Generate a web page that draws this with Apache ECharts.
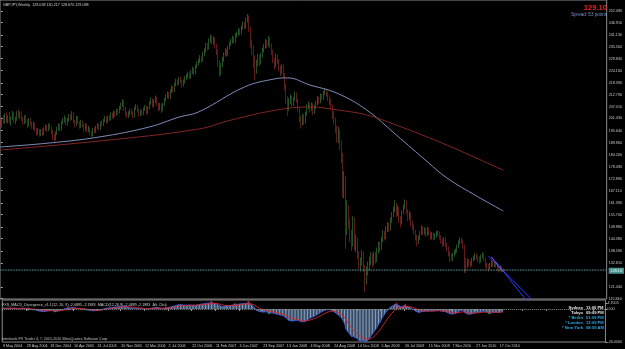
<!DOCTYPE html>
<html><head><meta charset="utf-8">
<script src="https://cdn.jsdelivr.net/npm/echarts@6/dist/echarts.min.js"></script>
<style>html,body{margin:0;padding:0;background:#000;overflow:hidden}#c{width:625px;height:349px}</style>
</head><body><div id="c"></div>
<script>
// ---------- DATA (weekly GBPJPY, index 0 = week of 9 May 2004) ----------
const opens = [
200.2,198.5,201.2,199.8,203.0,200.6,202.4,199.9,201.5,203.8,
200.2,201.0,204.1,202.6,203.9,201.4,199.6,202.1,200.0,198.2,
200.9,199.3,197.4,198.8,196.2,194.6,195.8,193.9,195.6,194.0,
196.3,197.5,196.0,198.2,197.0,195.1,193.0,191.8,194.4,196.7,
198.0,196.3,199.5,200.4,201.6,199.0,200.8,202.5,201.3,203.9,
200.0,198.4,201.9,199.6,197.8,199.9,198.1,196.4,198.3,195.7,
196.8,194.5,193.6,196.0,195.2,197.3,198.1,196.7,199.4,198.6,
200.3,201.5,199.9,202.0,201.1,203.4,202.2,204.0,203.2,205.1,
204.3,206.5,207.8,209.2,206.0,203.9,202.8,203.6,205.2,204.0,
202.5,206.3,207.0,205.1,203.4,204.9,203.7,205.8,206.9,204.2,
206.4,208.9,210.2,207.5,209.6,211.0,208.3,206.1,207.9,205.6,
208.0,210.4,211.8,213.2,211.5,214.3,216.0,214.8,217.5,219.2,
218.0,220.1,219.0,217.4,218.8,220.6,221.3,222.5,221.0,223.4,
224.8,223.2,226.1,227.4,228.6,230.2,229.1,232.0,233.5,236.2,
235.0,238.4,240.1,237.8,239.2,236.0,233.4,228.1,224.3,226.8,
229.5,231.7,233.6,232.0,235.1,236.9,238.0,239.6,238.2,240.8,
241.5,243.0,242.1,244.6,246.3,245.0,248.2,249.5,244.1,237.0,
235.2,229.0,224.6,227.9,230.8,228.0,231.5,233.9,235.6,238.0,
236.4,239.1,236.2,233.0,229.4,226.5,231.0,228.7,225.3,223.9,
226.2,222.0,217.1,210.6,206.5,209.8,211.4,208.2,210.5,213.0,
210.1,206.0,201.4,199.0,202.5,199.8,203.6,206.9,208.0,205.7,
207.9,204.4,206.8,208.5,210.9,209.4,212.2,211.0,213.6,214.5,
212.8,211.4,209.6,207.2,203.5,200.8,196.8,192.4,194.7,189.6,
183.5,170.3,172.1,148.4,157.9,152.2,146.0,141.8,153.3,140.6,
143.1,137.2,131.3,133.0,137.4,130.8,124.0,129.2,130.5,133.4,
136.2,132.9,136.8,134.1,138.6,141.3,140.0,143.7,146.8,145.2,
148.9,150.6,149.2,152.8,155.4,157.9,160.4,156.3,158.8,153.4,
152.0,156.7,159.5,161.8,157.2,154.3,156.0,151.6,150.2,147.9,
145.1,143.0,144.6,146.9,149.4,147.3,148.6,146.4,148.8,147.0,
145.2,146.3,144.9,145.8,146.7,147.1,145.0,143.4,141.8,144.0,
141.7,139.8,137.6,136.4,134.9,136.8,137.9,138.5,140.6,142.4,
143.9,143.2,141.0,134.5,131.2,133.6,132.8,132.1,134.3,135.0,
136.2,135.5,134.6,133.8,135.9,136.8,134.7,132.1,131.3,130.6,
131.8,133.0,131.9,132.5,131.6,130.4,129.9,130.7,129.038];
const highs = [
201.4,202.0,203.0,203.9,204.4,203.0,204.5,202.5,205.0,204.4,
202.3,205.0,205.6,204.8,204.6,202.2,202.9,203.3,201.1,201.8,
201.7,200.0,199.9,199.4,197.0,196.9,196.5,196.4,196.8,197.2,
198.6,198.3,199.1,199.0,197.8,196.0,194.1,195.2,197.5,199.2,
198.9,200.4,201.6,202.8,202.3,201.7,203.6,203.4,204.9,204.5,
200.8,202.6,202.7,200.3,200.8,200.5,198.9,199.2,198.8,197.9,
197.3,195.4,196.8,197.1,198.0,199.3,198.8,200.1,200.5,201.2,
202.6,202.3,202.9,203.0,204.3,204.2,205.1,204.9,206.0,206.2,
207.4,208.9,210.6,210.1,207.0,204.8,204.9,206.1,206.0,204.9,
207.0,208.2,207.8,205.9,205.8,205.7,206.6,207.9,207.5,207.3,
209.8,211.4,210.9,210.5,212.3,211.7,209.0,208.8,208.5,208.9,
211.2,212.9,214.3,214.0,215.2,217.1,216.9,218.4,220.3,220.0,
221.0,221.2,219.7,219.9,221.5,222.6,223.6,223.3,224.3,226.0,
225.6,227.0,228.6,229.9,231.5,231.0,233.1,234.8,237.3,237.4,
239.5,241.3,240.9,240.5,239.9,237.0,234.2,229.2,227.9,230.6,
232.8,234.9,234.5,236.1,238.0,239.3,240.8,240.4,241.9,242.7,
244.3,244.1,245.6,247.5,247.2,249.3,251.1,250.4,245.0,238.6,
236.1,231.4,229.3,232.0,231.7,232.6,235.2,236.9,239.2,238.8,
240.5,239.9,237.0,234.1,230.2,232.3,231.9,229.6,226.6,227.4,
227.0,222.9,218.0,211.9,211.0,212.9,212.1,211.6,214.2,213.8,
210.9,206.8,202.6,203.8,203.3,204.7,208.1,209.6,208.8,209.0,
208.6,207.9,209.7,212.0,211.8,213.3,213.1,214.7,215.9,215.4,
213.9,212.5,210.8,208.1,204.9,202.0,198.1,197.5,196.0,191.2,
185.0,176.4,174.0,162.6,160.3,153.8,148.6,155.0,154.5,146.2,
144.9,138.5,135.4,139.0,138.2,131.9,131.0,133.6,135.8,137.9,
137.4,138.3,138.0,140.1,142.9,143.0,145.2,148.4,148.0,150.3,
152.2,152.0,154.4,157.0,159.6,162.7,161.5,160.1,159.5,155.0,
157.8,160.6,163.0,162.5,158.3,157.4,156.8,152.9,151.1,148.7,
146.2,145.9,148.0,150.6,150.3,149.7,149.5,149.9,149.6,147.8,
147.4,147.1,146.9,147.9,148.4,147.8,145.9,144.3,145.1,144.8,
142.5,140.7,138.5,137.3,137.8,139.0,139.7,141.5,143.5,145.0,
144.9,144.0,141.6,135.3,134.9,134.7,133.9,135.2,136.3,137.4,
137.3,136.4,135.9,136.8,137.9,137.5,135.4,133.0,132.4,132.9,
134.2,133.8,133.6,133.4,132.2,131.3,131.6,131.4,130.217];
const lows = [
197.7,197.0,199.1,198.9,199.5,199.1,199.2,198.1,200.7,199.4,
198.7,200.3,201.8,201.1,200.2,198.4,198.8,199.2,197.0,197.5,
198.0,196.5,196.1,195.3,193.2,193.7,192.8,193.0,193.1,193.4,
195.6,194.9,195.4,196.2,194.0,191.2,190.4,191.0,193.6,195.8,
195.4,195.7,198.6,199.5,198.2,198.1,200.0,200.4,200.6,199.1,
197.2,197.9,198.8,196.6,197.0,197.3,195.2,195.6,194.8,194.9,
193.6,192.5,192.9,194.3,194.6,196.5,195.8,196.0,197.7,197.9,
199.6,199.0,199.2,200.2,200.5,201.3,201.5,202.1,202.6,203.2,
203.7,205.6,206.9,205.1,202.6,201.5,201.7,202.8,203.1,201.4,
201.9,205.4,204.3,202.3,202.6,202.8,203.0,205.0,203.3,203.6,
205.7,208.0,206.6,206.8,208.7,207.4,204.8,205.3,203.9,204.8,
207.3,209.6,210.9,210.6,210.8,213.5,213.8,214.1,216.7,217.0,
217.3,218.1,216.2,216.6,218.0,219.7,220.5,220.0,220.3,222.6,
222.1,222.5,225.2,226.5,227.8,227.9,228.4,231.0,232.7,233.8,
234.2,237.4,236.5,236.6,234.7,231.6,226.0,221.2,222.0,225.7,
228.4,230.8,230.9,231.3,234.2,235.9,237.1,237.0,237.4,239.8,
240.7,240.9,241.3,243.7,243.8,244.2,247.0,242.6,234.8,231.4,
225.6,219.6,222.8,226.4,226.3,227.1,230.4,232.8,234.5,234.9,
235.6,234.8,231.6,227.8,224.6,225.8,227.2,223.8,221.5,222.6,
220.8,214.9,208.4,202.8,205.1,208.3,207.0,207.3,209.7,208.9,
204.6,199.7,196.7,198.1,198.4,199.0,202.7,205.8,204.2,204.9,
203.1,203.6,205.9,207.6,208.2,208.6,209.9,210.2,212.6,211.7,
209.6,207.8,205.4,201.2,198.5,194.5,190.0,189.8,186.4,180.2,
163.8,163.5,139.5,146.1,149.0,142.7,138.6,140.6,138.9,137.8,
134.6,129.9,128.7,131.6,128.5,118.8,122.5,126.9,129.4,131.8,
130.6,131.7,132.6,133.3,137.2,137.8,139.1,142.6,143.5,144.1,
147.5,147.6,148.3,151.9,154.5,156.8,154.6,155.0,151.8,149.6,
151.2,155.9,158.4,155.9,152.6,153.1,150.2,148.4,146.3,143.4,
140.6,141.8,143.7,146.0,146.1,146.2,145.1,145.6,145.9,143.6,
144.0,143.7,143.9,144.9,145.5,143.8,142.0,140.4,141.0,140.3,
138.4,135.9,133.3,133.6,133.9,135.8,136.9,137.7,139.8,141.5,
142.0,139.6,128.0,128.2,130.3,131.3,130.6,131.4,133.5,134.1,
134.4,133.3,132.5,133.0,135.1,133.6,130.8,129.4,128.7,129.6,
130.9,130.7,130.9,130.5,129.1,128.3,128.9,128.4,128.670];
const closes = [
198.5,201.2,199.8,203.0,200.6,202.4,199.9,201.5,203.8,200.2,
201.0,204.1,202.6,203.9,201.4,199.6,202.1,200.0,198.2,200.9,
199.3,197.4,198.8,196.2,194.6,195.8,193.9,195.6,194.0,196.3,
197.5,196.0,198.2,197.0,195.1,193.0,191.8,194.4,196.7,198.0,
196.3,199.5,200.4,201.6,199.0,200.8,202.5,201.3,203.9,200.0,
198.4,201.9,199.6,197.8,199.9,198.1,196.4,198.3,195.7,196.8,
194.5,193.6,196.0,195.2,197.3,198.1,196.7,199.4,198.6,200.3,
201.5,199.9,202.0,201.1,203.4,202.2,204.0,203.2,205.1,204.3,
206.5,207.8,209.2,206.0,203.9,202.8,203.6,205.2,204.0,202.5,
206.3,207.0,205.1,203.4,204.9,203.7,205.8,206.9,204.2,206.4,
208.9,210.2,207.5,209.6,211.0,208.3,206.1,207.9,205.6,208.0,
210.4,211.8,213.2,211.5,214.3,216.0,214.8,217.5,219.2,218.0,
220.1,219.0,217.4,218.8,220.6,221.3,222.5,221.0,223.4,224.8,
223.2,226.1,227.4,228.6,230.2,229.1,232.0,233.5,236.2,235.0,
238.4,240.1,237.8,239.2,236.0,233.4,228.1,224.3,226.8,229.5,
231.7,233.6,232.0,235.1,236.9,238.0,239.6,238.2,240.8,241.5,
243.0,242.1,244.6,246.3,245.0,248.2,249.5,244.1,237.0,235.2,
229.0,224.6,227.9,230.8,228.0,231.5,233.9,235.6,238.0,236.4,
239.1,236.2,233.0,229.4,226.5,231.0,228.7,225.3,223.9,226.2,
222.0,217.1,210.6,206.5,209.8,211.4,208.2,210.5,213.0,210.1,
206.0,201.4,199.0,202.5,199.8,203.6,206.9,208.0,205.7,207.9,
204.4,206.8,208.5,210.9,209.4,212.2,211.0,213.6,214.5,212.8,
211.4,209.6,207.2,203.5,200.8,196.8,192.4,194.7,189.6,183.5,
170.3,172.1,148.4,157.9,152.2,146.0,141.8,153.3,140.6,143.1,
137.2,131.3,133.0,137.4,130.8,124.0,129.2,130.5,133.4,136.2,
132.9,136.8,134.1,138.6,141.3,140.0,143.7,146.8,145.2,148.9,
150.6,149.2,152.8,155.4,157.9,160.4,156.3,158.8,153.4,152.0,
156.7,159.5,161.8,157.2,154.3,156.0,151.6,150.2,147.9,145.1,
143.0,144.6,146.9,149.4,147.3,148.6,146.4,148.8,147.0,145.2,
146.3,144.9,145.8,146.7,147.1,145.0,143.4,141.8,144.0,141.7,
139.8,137.6,136.4,134.9,136.8,137.9,138.5,140.6,142.4,143.9,
143.2,141.0,134.5,131.2,133.6,132.8,132.1,134.3,135.0,136.2,
135.5,134.6,133.8,135.9,136.8,134.7,132.1,131.3,130.6,131.8,
133.0,131.9,132.5,131.6,130.4,129.9,130.7,129.04,129.098];
// moving averages: [week index, price]
const maFast = [[0,187.9],[33,189.8],[66,192.6],[100,197.4],[120,202.1],[133,204.5],[164,216.4],[184,220.2],[193,220.7],[208,217.3],[226,213.5],[246,205.5],[266,193.6],[287,180.8],[300,173.2],[320,164.6],[338,157.5]];
const maSlow = [[0,186.5],[66,190.7],[133,196.4],[155,200.7],[186,205.5],[208,206.9],[226,205.5],[246,203.1],[266,198.3],[300,188.8],[338,176.8]];
// trend channel drawn at the right end: [week index, price]
const channelA = [[328,136.1],[360,113.5]];
const channelB = [[333,133.3],[354,114.5]];
const channelC = [[330,135.6],[338,128.5]];
// MACD(12,26,9) main and signal
const macdMain = [
0.6,0.7,0.6,0.8,0.7,0.7,0.5,0.5,0.6,0.4,
0.4,0.6,0.6,0.7,0.5,0.2,0.2,0.0,-0.3,-0.3,
-0.4,-0.7,-0.8,-1.1,-1.5,-1.6,-1.9,-1.9,-2.0,-1.8,
-1.5,-1.4,-1.1,-1.0,-1.1,-1.4,-1.8,-1.7,-1.3,-0.8,
-0.6,-0.2,0.2,0.6,0.6,0.7,0.9,0.9,1.1,0.8,
0.4,0.5,0.3,-0.1,-0.1,-0.3,-0.6,-0.6,-0.9,-1.0,
-1.3,-1.6,-1.4,-1.3,-1.0,-0.7,-0.6,-0.2,0.0,0.3,
0.6,0.6,0.9,1.0,1.3,1.4,1.6,1.6,1.8,1.8,
2.0,2.2,2.5,2.2,1.7,1.2,0.9,0.8,0.6,0.3,
0.5,0.7,0.6,0.3,0.2,0.0,0.1,0.2,0.0,0.1,
0.5,0.9,0.9,1.0,1.3,1.1,0.7,0.6,0.2,0.2,
0.5,0.9,1.3,1.4,1.8,2.3,2.4,2.8,3.2,3.3,
3.5,3.4,3.1,3.0,3.0,3.0,3.1,2.9,3.0,3.1,
2.9,3.1,3.3,3.5,3.8,3.8,4.1,4.3,4.6,4.6,
4.8,4.9,4.6,4.4,4.1,3.6,3.0,2.4,2.0,1.9,
2.0,2.2,2.3,2.6,2.9,3.1,3.3,3.4,3.6,3.8,
4.0,4.0,4.2,4.4,4.4,4.6,4.7,4.3,3.4,2.4,
1.2,-0.5,-1.3,-1.8,-2.2,-2.4,-2.4,-2.3,-2.1,-2.3,
-2.7,-2.9,-3.0,-3.3,-3.8,-3.9,-4.2,-4.6,-5.0,-5.2,
-5.6,-6.4,-7.6,-8.8,-9.3,-9.4,-9.5,-9.3,-8.9,-8.8,
-9.0,-9.6,-10.2,-10.1,-10.0,-9.5,-8.6,-7.7,-7.1,-6.5,
-6.1,-5.5,-4.8,-4.0,-3.4,-2.6,-2.0,-1.4,-0.8,-0.5,
-0.4,-0.5,-0.8,-1.4,-2.1,-3.1,-4.2,-4.8,-5.8,-7.2,
-9.0,-11.5,-15.8,-17.6,-19.0,-20.6,-22.0,-21.6,-22.6,-22.8,
-23.8,-25.0,-25.4,-24.8,-25.0,-25.9,-25.2,-24.3,-22.8,-21.0,
-19.6,-17.8,-16.4,-14.4,-12.2,-10.4,-8.2,-5.9,-4.3,-2.4,
-0.9,0.3,1.3,2.1,2.9,3.5,3.3,3.3,2.6,1.9,
2.0,2.3,2.6,2.2,1.6,1.4,0.7,0.1,-0.7,-1.6,
-2.4,-2.7,-2.6,-2.2,-2.1,-1.8,-1.8,-1.5,-1.4,-1.5,
-1.4,-1.5,-1.4,-1.2,-1.0,-1.1,-1.4,-1.8,-1.7,-2.0,
-2.4,-3.0,-3.5,-4.0,-4.0,-3.8,-3.5,-2.9,-2.2,-1.5,
-1.1,-1.1,-2.3,-3.4,-3.8,-4.1,-4.2,-3.9,-3.5,-3.0,
-2.7,-2.6,-2.5,-2.2,-1.8,-1.8,-2.1,-2.4,-2.7,-2.7,
-2.6,-2.6,-2.5,-2.5,-2.6,-2.7,-2.5,-2.4,-2.0895];
const macdSignal = [
0.5,0.5,0.5,0.6,0.6,0.6,0.6,0.6,0.6,0.6,
0.5,0.5,0.5,0.6,0.6,0.5,0.4,0.3,0.2,0.1,
0.0,-0.1,-0.3,-0.4,-0.6,-0.8,-1.0,-1.2,-1.3,-1.4,
-1.5,-1.5,-1.4,-1.3,-1.3,-1.3,-1.4,-1.5,-1.4,-1.3,
-1.2,-1.0,-0.7,-0.5,-0.3,-0.1,0.1,0.3,0.5,0.6,
0.6,0.6,0.5,0.4,0.3,0.2,0.0,-0.1,-0.3,-0.4,
-0.6,-0.8,-1.0,-1.1,-1.1,-1.0,-1.0,-0.8,-0.6,-0.4,
-0.2,0.0,0.2,0.4,0.6,0.8,1.0,1.1,1.3,1.4,
1.5,1.6,1.8,1.9,1.9,1.8,1.6,1.5,1.3,1.1,
1.0,0.9,0.8,0.7,0.6,0.5,0.4,0.3,0.3,0.2,
0.3,0.4,0.5,0.6,0.7,0.8,0.8,0.8,0.7,0.6,
0.6,0.6,0.8,0.9,1.1,1.3,1.5,1.8,2.1,2.3,
2.5,2.7,2.8,2.8,2.9,2.9,2.9,2.9,3.0,3.0,
3.0,3.0,3.0,3.1,3.3,3.4,3.5,3.7,3.9,4.0,
4.2,4.3,4.4,4.4,4.4,4.2,4.0,3.7,3.4,3.1,
2.9,2.8,2.7,2.7,2.7,2.8,2.9,3.0,3.1,3.3,
3.4,3.5,3.7,3.8,3.9,4.0,4.2,4.2,4.0,3.7,
3.2,2.5,1.7,1.0,0.4,-0.2,-0.6,-0.9,-1.2,-1.4,
-1.7,-1.9,-2.1,-2.3,-2.6,-2.8,-3.1,-3.4,-3.7,-4.0,
-4.3,-4.7,-5.3,-6.0,-6.6,-7.2,-7.6,-8.0,-8.2,-8.4,
-8.5,-8.7,-9.0,-9.2,-9.4,-9.4,-9.2,-9.0,-8.6,-8.2,
-7.8,-7.3,-6.8,-6.3,-5.7,-5.1,-4.5,-3.9,-3.3,-2.8,
-2.3,-1.9,-1.7,-1.6,-1.7,-2.0,-2.4,-2.9,-3.5,-4.2,
-5.2,-6.4,-8.3,-10.2,-12.0,-13.7,-15.4,-16.7,-17.9,-18.9,
-19.9,-20.9,-21.8,-22.4,-22.9,-23.5,-23.8,-23.9,-23.7,-23.2,
-22.5,-21.6,-20.5,-19.3,-17.9,-16.4,-14.8,-13.0,-11.3,-9.5,
-7.8,-6.2,-4.7,-3.3,-2.1,-1.0,-0.2,0.5,0.9,1.1,
1.3,1.5,1.8,1.9,1.9,1.8,1.6,1.3,0.9,0.4,
-0.2,-0.7,-1.1,-1.3,-1.5,-1.6,-1.7,-1.7,-1.6,-1.6,
-1.6,-1.6,-1.5,-1.5,-1.4,-1.3,-1.3,-1.4,-1.5,-1.6,
-1.7,-2.0,-2.3,-2.6,-2.9,-3.1,-3.2,-3.1,-2.9,-2.7,
-2.4,-2.2,-2.2,-2.5,-2.8,-3.0,-3.3,-3.4,-3.4,-3.3,
-3.2,-3.1,-3.0,-2.8,-2.6,-2.5,-2.4,-2.4,-2.5,-2.5,
-2.5,-2.5,-2.5,-2.5,-2.5,-2.5,-2.4,-2.3,-2.1883];
// divergence markers on the MACD: [week index, value]
const divPeaks = [[44,0.9],[110,0.9],[141,5.3],[157,3.8],[166,5.1],[266,3.7],[272,3.0]];
const divTroughs = [[17,0.0],[35,-1.4],[151,2.2],[180,-2.7],[329,-2.7]];
// tick labels
const xTickLabels = ['9 May 2004','29 Aug 2004','19 Dec 2004','10 Apr 2005','31 Jul 2005','20 Nov 2005','12 Mar 2006','2 Jul 2006','22 Oct 2006','11 Feb 2007','3 Jun 2007','23 Sep 2007','13 Jan 2008','4 May 2008','24 Aug 2008','14 Dec 2008','5 Apr 2009','26 Jul 2009','15 Nov 2009','7 Mar 2010','27 Jun 2010','17 Oct 2010'];
const priceTicks = [252.490,246.910,241.130,235.560,229.840,224.160,218.390,212.790,207.010,201.430,195.640,189.960,184.260,178.490,172.890,167.110,161.390,155.760,149.980,144.380,138.590,132.810,121.440,115.840];
const macdTickValues = [4.7005, 0, -26];
const macdTickLabels = ['4.7005','0.00','-26.0000'];
const bidPrice = 129.10, askPrice = 129.63;
const titleText = 'GBPJPY,Weekly  129.038 130.217 128.670 129.098';
const macdTitle = 'FXS_MACD_Divergence_v1.1(12, 26, 9) -2.0895 -2.1883  MACD(12,26,9) -2.0895 -2.1883  Alt. Click';
const footerText = 'Interbank FX Trader 4, \u00a9 2001-2010 MetaQuotes Software Corp.';
const clockRows = [['Sydney','11:09 PM',0],['Tokyo','09:09 PM',0],['* Berlin','01:09 PM',1],['* London','12:09 PM',1],['* New York','08:09 AM',1]];
const SLOTS = 408;

// ---------- build ----------
const cats = []; for (let i = 0; i < SLOTS; i++) cats.push(String(i));
const candles = closes.map((c, i) => [opens[i], c, lows[i], highs[i]]);
const F = 'Liberation Sans';
const FS = 3.7;
const chart = echarts.init(document.getElementById('c'), null, {renderer: 'canvas'});

const graphic = [
  {type:'text', x:3, y:5, style:{text:titleText, fill:'#d0d0d0', fontSize:FS, fontFamily:F, verticalAlign:'middle'}},
  {type:'text', x:607, y:8, style:{text:bidPrice.toFixed(2), fill:'#ff1a1a', fontSize:7.6, fontWeight:'bold', fontFamily:F, align:'right', verticalAlign:'middle'}},
  {type:'text', x:607, y:15, style:{text:'Spread: 53 points', fill:'#7b8fc8', fontSize:4.6, fontFamily:F, align:'right', verticalAlign:'middle'}},
  {type:'text', x:2, y:304.5, style:{text:macdTitle, fill:'#c8c8c8', fontSize:FS, fontFamily:F, verticalAlign:'middle'}},
  {type:'text', x:2, y:339, style:{text:footerText, fill:'#c0c0c0', fontSize:FS, fontFamily:F, verticalAlign:'middle'}}
];
clockRows.forEach((r, k) => {
  const col = r[2] ? '#2aa8e8' : '#e8e8e8';
  graphic.push({type:'text', x:583, y:308 + k*5, style:{text:r[0], fill:col, fontSize:4.1, fontFamily:F, fontWeight:'bold', align:'right', verticalAlign:'middle'}});
  graphic.push({type:'text', x:586, y:308 + k*5, style:{text:r[1], fill:col, fontSize:4.1, fontFamily:F, fontWeight:'bold', align:'left', verticalAlign:'middle'}});
});

chart.setOption({
  backgroundColor:'#000',
  animation:false,
  grid:[
    {left:0, right:14, top:0, height:299, show:true, borderColor:'#8a8a8a', borderWidth:1, backgroundColor:'transparent'},
    {left:0, right:14, top:300, height:42, show:true, borderColor:'#8a8a8a', borderWidth:1, backgroundColor:'transparent'}
  ],
  xAxis:[
    {type:'category', gridIndex:0, data:cats, boundaryGap:true, show:false},
    {type:'category', gridIndex:1, data:cats, boundaryGap:true,
     axisLine:{show:false},
     axisTick:{show:true, interval:15, length:2, inside:false, lineStyle:{color:'#9a9a9a'}},
     axisLabel:{interval:15, color:'#c8c8c8', fontSize:FS, fontFamily:F, margin:2, align:'left',
       formatter:(v, idx) => (idx % 16 === 0 && idx / 16 < xTickLabels.length) ? xTickLabels[idx / 16] : ''},
     splitLine:{show:false}},
    {type:'value', gridIndex:0, min:-0.5, max:SLOTS - 0.5, show:false}
  ],
  yAxis:[
    {type:'value', gridIndex:0, position:'right', min:115.68, max:257.7, scale:true,
     axisLine:{show:false}, splitLine:{show:false},
     axisTick:{show:true, length:2, customValues:priceTicks, lineStyle:{color:'#aaaaaa'}},
     axisLabel:{customValues:priceTicks, formatter:v => v.toFixed(3), color:'#c8c8c8', fontSize:FS, fontFamily:F, margin:2}},
    {type:'value', gridIndex:1, position:'right', min:-26, max:7.1,
     axisLine:{show:false}, splitLine:{show:false},
     axisTick:{show:true, length:2, customValues:macdTickValues, lineStyle:{color:'#aaaaaa'}},
     axisLabel:{customValues:macdTickValues, formatter:v => { const k = macdTickValues.indexOf(v); return k >= 0 ? macdTickLabels[k] : ''; }, color:'#c8c8c8', fontSize:FS, fontFamily:F, margin:2}}
  ],
  graphic: graphic,
  series:[
    {type:'candlestick', xAxisIndex:0, yAxisIndex:0, data:candles, barWidth:0.6,
     itemStyle:{color:'#3c8a3c', color0:'#9a2f2f', borderColor:'#3c8a3c', borderColor0:'#9a2f2f', borderWidth:0.6},
     markLine:{silent:true, symbol:'none', animation:false,
       data:[
         {yAxis:askPrice, lineStyle:{type:'dotted', color:'#456f6f', width:0.8}, label:{show:false}},
         {yAxis:bidPrice, lineStyle:{type:'dotted', color:'#4f8585', width:0.8},
          label:{show:true, position:'end', formatter:bidPrice.toFixed(2), color:'#e8ffff', backgroundColor:'#4f9494', fontSize:FS, fontFamily:F, padding:[1,2], distance:2}}
       ]}},
    {type:'line', xAxisIndex:2, yAxisIndex:0, data:maFast, smooth:0.4, symbol:'none', lineStyle:{color:'#8c9bcc', width:0.9}},
    {type:'line', xAxisIndex:2, yAxisIndex:0, data:maSlow, smooth:0.4, symbol:'none', lineStyle:{color:'#922828', width:0.9}},
    {type:'line', xAxisIndex:2, yAxisIndex:0, data:channelA, symbol:'none', lineStyle:{color:'#2a3cff', width:1}},
    {type:'line', xAxisIndex:2, yAxisIndex:0, data:channelB, symbol:'none', lineStyle:{color:'#2a3cff', width:1}},
    {type:'line', xAxisIndex:2, yAxisIndex:0, data:channelC, symbol:'none', lineStyle:{color:'#9a40d0', width:1}},
    {type:'bar', xAxisIndex:1, yAxisIndex:1, data:macdMain, barWidth:0.8, itemStyle:{color:'#7f9fc8'},
     markLine:{silent:true, symbol:'none', animation:false, label:{show:false},
       data:[{yAxis:0, lineStyle:{type:'dotted', color:'#8a8a8a', width:1}}]}},
    {type:'line', xAxisIndex:1, yAxisIndex:1, data:macdMain, symbol:'none', lineStyle:{color:'#3a5ae6', width:0.9}},
    {type:'line', xAxisIndex:1, yAxisIndex:1, data:macdSignal, symbol:'none', lineStyle:{color:'#d82626', width:0.9}},
    {type:'scatter', xAxisIndex:1, yAxisIndex:1, data:divPeaks, symbol:'triangle', symbolSize:4, itemStyle:{color:'#ff2a2a'}},
    {type:'scatter', xAxisIndex:1, yAxisIndex:1, data:divTroughs, symbol:'circle', symbolSize:3, itemStyle:{color:'#40c060'}}
  ]
});
</script>
</body></html>
